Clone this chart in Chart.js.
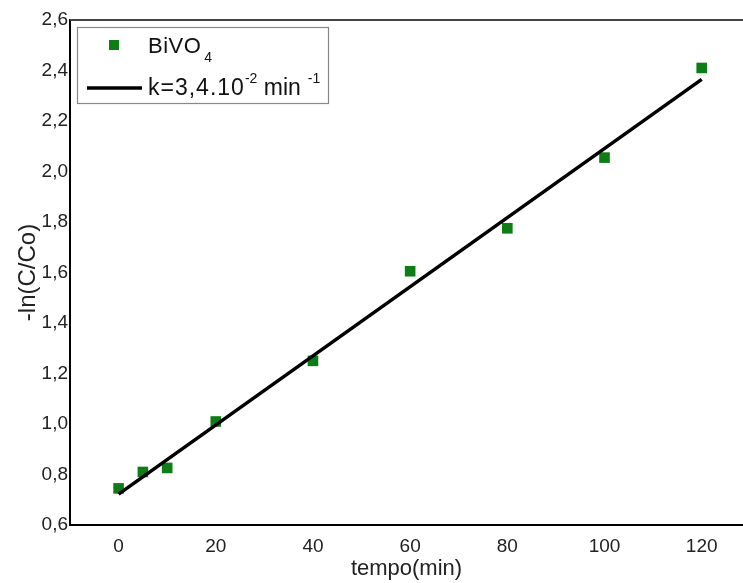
<!DOCTYPE html>
<html>
<head>
<meta charset="utf-8">
<script src="https://cdn.jsdelivr.net/npm/chart.js@4/dist/chart.umd.min.js"></script>
<style>
  html, body { margin: 0; padding: 0; background: #fff; overflow: hidden; }
</style>
</head>
<body>
<canvas id="myChart" width="743" height="583"></canvas>
<script>
// dati
const tempo = [0, 5, 10, 20, 40, 60, 80, 100, 120];
const lnC = [0.745, 0.81, 0.826, 1.01, 1.25, 1.605, 1.775, 2.055, 2.41];
const fitX = [0, 120];
const fitY = [0.722, 2.365];
const xTicks = [0, 20, 40, 60, 80, 100, 120];
const yTicks = [0.6, 0.8, 1.0, 1.2, 1.4, 1.6, 1.8, 2.0, 2.2, 2.4, 2.6];

const verde = '#0f7d16';
const font = 'Liberation Sans, Arial, sans-serif';

// legenda con pedici/apici
const legendaPlugin = {
    id: 'legenda',
    afterDraw(chart) {
        const c = chart.ctx;
        const a = chart.chartArea;
        c.save();
        // bordo superiore
        c.strokeStyle = '#444';
        c.lineWidth = 2;
        c.beginPath();
        c.moveTo(a.left, a.top);
        c.lineTo(chart.width, a.top);
        c.stroke();

        const bx = a.left + 7, by = a.top + 7, bw = 251, bh = 76;
        c.fillStyle = '#fff';
        c.fillRect(bx, by, bw, bh);
        c.strokeStyle = '#888';
        c.lineWidth = 1.2;
        c.strokeRect(bx + 0.5, by + 0.5, bw, bh);

        // voce 1
        c.fillStyle = verde;
        c.fillRect(bx + 32, by + 13, 10, 10);
        c.fillStyle = '#111';
        c.textBaseline = 'alphabetic';
        let x = bx + 71;
        c.font = '22px ' + font;
        c.letterSpacing = '0.5px';
        c.fillText('BiVO', x, by + 26);
        x += c.measureText('BiVO').width + 3;
        c.letterSpacing = '0px';
        c.font = '14px ' + font;
        c.fillText('4', x, by + 35);

        // voce 2
        c.strokeStyle = '#000';
        c.lineWidth = 3.5;
        c.beginPath();
        c.moveTo(bx + 10, by + 61);
        c.lineTo(bx + 65, by + 61);
        c.stroke();
        x = bx + 71;
        c.font = '23px ' + font;
        c.letterSpacing = '1px';
        c.fillText('k=3,4.10', x, by + 68);
        x += c.measureText('k=3,4.10').width;
        c.letterSpacing = '0px';
        c.font = '14px ' + font;
        c.fillText('-2', x, by + 56);
        x += c.measureText('-2').width;
        c.font = '23px ' + font;
        c.fillText(' min', x, by + 68);
        x += c.measureText(' min').width + 7;
        c.font = '14px ' + font;
        c.fillText('-1', x, by + 56);
        c.restore();
    }
};

const ctx = document.getElementById('myChart');
const myChart = new Chart(ctx, {
    type: 'scatter',
    data: {
        datasets: [{
            label: 'BiVO4',
            data: tempo.map((t, i) => ({ x: t, y: lnC[i] })),
            pointStyle: 'rect',
            pointRadius: 7.5,
            pointBorderWidth: 0,
            backgroundColor: verde,
            borderColor: verde,
            order: 2
        }, {
            label: 'k=3,4.10-2 min-1',
            data: fitX.map((t, i) => ({ x: t, y: fitY[i] })),
            showLine: true,
            borderColor: '#000',
            borderWidth: 3.5,
            pointRadius: 0,
            order: 1
        }]
    },
    options: {
        responsive: false,
        animation: false,
        layout: { autoPadding: false, padding: { top: 20, right: 0, left: 0, bottom: 0 } },
        plugins: {
            legend: { display: false },
            tooltip: { enabled: false }
        },
        scales: {
            x: {
                type: 'linear',
                min: -10,
                max: 128.5,
                afterBuildTicks: s => { s.ticks = xTicks.map(v => ({ value: v })); },
                afterFit: s => { s.height = 58; s.paddingLeft = 0; s.paddingRight = 0; },
                grid: { display: false, drawTicks: false, tickLength: 0 },
                border: { display: true, color: '#000', width: 2 },
                ticks: { color: '#222', font: { family: font, size: 19 }, padding: 10 },
                title: {
                    display: true, text: 'tempo(min)', color: '#222',
                    font: { family: font, size: 22 }, padding: { top: 0, bottom: 1 }
                }
            },
            y: {
                min: 0.6,
                max: 2.6,
                afterBuildTicks: s => { s.ticks = yTicks.map(v => ({ value: v })); },
                afterFit: s => { s.width = 70; },
                grid: { display: false, drawTicks: false, tickLength: 0 },
                border: { display: true, color: '#000', width: 2 },
                ticks: {
                    color: '#222', font: { family: font, size: 19 }, padding: 2,
                    callback: v => v.toFixed(1).replace('.', ',')
                },
                title: {
                    display: true, text: '-ln(C/Co)', color: '#222',
                    font: { family: font, size: 24 }, padding: { top: 14, bottom: 0 }
                }
            }
        }
    },
    plugins: [legendaPlugin]
});
</script>
</body>
</html>
